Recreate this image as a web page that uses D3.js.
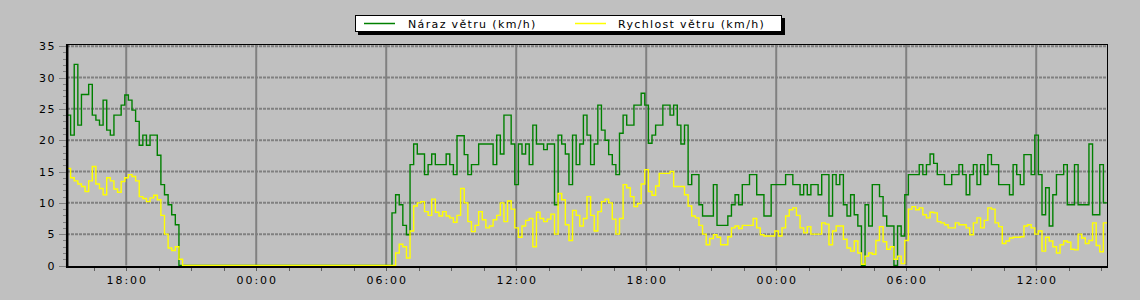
<!DOCTYPE html>
<html>
<head>
<meta charset="utf-8">
<script src="https://cdn.jsdelivr.net/npm/d3@7"></script>
<style>
  html, body { margin: 0; padding: 0; background: #c0c0c0; }
  svg { display: block; }
  text { font-family: "DejaVu Sans", sans-serif; }
</style>
</head>
<body>
<svg id="chart" width="1140" height="300"></svg>
<script>
// ---- data (10-minute samples starting at startTime) ----
const startTime = new Date(2024, 4, 10, 15, 16);
const stepMinutes = 10;
const spanHours = 48;

const seriesNames = ["Náraz větru (km/h)", "Rychlost větru (km/h)"];
const seriesColors = ["#008000", "#ffff00"];

const gust = [
  24.0, 20.8, 32.1, 22.4, 27.3, 27.3, 28.9, 24.0, 23.2, 22.4, 26.4, 21.6,
  20.8, 24.0, 24.0, 25.6, 27.2, 26.4, 24.8, 23.0, 19.2, 20.8, 19.2, 20.8,
  20.8, 17.6, 12.9, 11.3, 9.7, 8.1, 6.5, 0, 0, 0, 0, 0,
  0, 0, 0, 0, 0, 0, 0, 0, 0, 0, 0, 0,
  0, 0, 0, 0, 0, 0, 0, 0, 0, 0, 0, 0,
  0, 0, 0, 0, 0, 0, 0, 0, 0, 0, 0, 0,
  0, 0, 0, 0, 0, 0, 0, 0, 0, 0, 0, 0,
  0, 0, 0, 0, 0, 0, 8.4, 11.3, 9.7, 6.4, 4.9, 16.1,
  19.4, 17.8, 17.8, 14.5, 16.1, 17.8, 16.1, 16.1, 16.1, 17.8, 16.1, 14.5,
  20.7, 20.7, 17.7, 14.5, 16.1, 16.1, 19.4, 19.4, 19.4, 19.4, 16.1, 20.8,
  17.8, 24.0, 24.0, 19.4, 12.9, 19.4, 17.8, 19.4, 16.1, 22.4, 19.4, 19.4,
  18.5, 19.4, 19.4, 9.7, 20.8, 19.4, 17.8, 12.9, 20.8, 16.1, 19.4, 24.0,
  20.8, 16.1, 19.4, 25.6, 21.6, 20.0, 17.7, 16.1, 14.5, 21.1, 24.0, 22.4,
  22.4, 25.6, 25.6, 27.5, 25.6, 19.5, 20.8, 22.4, 22.4, 25.6, 25.6, 24.0,
  25.6, 22.4, 19.4, 22.4, 12.9, 14.5, 14.5, 9.7, 7.9, 7.9, 7.9, 12.9,
  6.4, 6.4, 6.4, 7.9, 9.7, 11.3, 9.7, 12.9, 12.9, 14.5, 14.5, 11.3,
  11.3, 7.9, 7.9, 12.9, 12.9, 12.9, 12.9, 14.5, 14.5, 12.9, 12.9, 11.3,
  12.9, 11.3, 12.9, 12.9, 11.3, 14.5, 14.5, 7.9, 14.5, 12.9, 14.5, 9.7,
  7.9, 11.3, 8.1, 6.3, 0, 9.7, 6.3, 12.9, 12.9, 11.0, 7.9, 6.3,
  6.3, 0, 6.3, 4.7, 11.3, 14.5, 14.5, 14.5, 16.1, 14.5, 16.1, 17.8,
  16.3, 14.5, 14.5, 12.9, 12.9, 14.5, 14.5, 16.1, 14.5, 11.3, 14.5, 16.1,
  12.9, 16.1, 14.5, 17.7, 16.1, 16.1, 12.9, 12.9, 12.9, 11.3, 16.1, 14.5,
  12.9, 17.7, 17.7, 14.5, 20.8, 14.5, 8.1, 12.4, 6.3, 11.3, 14.5, 14.5,
  16.1, 9.7, 9.7, 16.1, 9.7, 9.7, 9.7, 19.4, 8.1, 8.1, 16.1, 10.0
];

const speed = [
  15.5, 14.0, 13.5, 13.0, 12.6, 11.8, 13.5, 15.8, 13.0, 12.3, 11.3, 14.0,
  13.5, 12.2, 11.7, 13.4, 14.0, 14.5, 14.2, 13.5, 11.0, 10.7, 10.2, 10.8,
  11.2, 10.5, 8.0, 5.0, 2.8, 2.4, 3.0, 1.0, 0, 0, 0, 0,
  0, 0, 0, 0, 0, 0, 0, 0, 0, 0, 0, 0,
  0, 0, 0, 0, 0, 0, 0, 0, 0, 0, 0, 0,
  0, 0, 0, 0, 0, 0, 0, 0, 0, 0, 0, 0,
  0, 0, 0, 0, 0, 0, 0, 0, 0, 0, 0, 0,
  0, 0, 0, 0, 0, 0, 0, 2.0, 3.4, 3.0, 1.2, 5.5,
  9.5, 10.0, 10.2, 8.6, 8.0, 10.6, 8.5, 7.9, 8.6, 7.9, 7.6, 6.9,
  8.0, 12.3, 10.0, 7.0, 5.4, 6.4, 8.6, 7.3, 6.0, 6.3, 7.3, 8.0,
  10.0, 7.0, 10.3, 9.0, 6.0, 4.5, 6.3, 7.2, 7.5, 3.0, 8.5, 7.5,
  7.0, 7.4, 8.2, 5.0, 11.5, 10.5, 6.5, 4.0, 8.8, 8.0, 6.3, 7.5,
  11.0, 8.0, 5.5, 8.6, 10.2, 10.6, 10.0, 7.4, 5.0, 7.5, 12.9, 12.4,
  11.0, 9.4, 9.9, 13.0, 15.3, 11.8, 11.2, 12.7, 14.7, 14.7, 14.7, 15.0,
  12.6, 12.6, 12.6, 11.3, 9.5, 7.9, 7.6, 6.4, 5.0, 3.3, 4.3, 4.9,
  4.5, 3.3, 3.3, 4.6, 6.0, 6.3, 5.9, 6.4, 6.4, 6.4, 7.5, 6.0,
  4.9, 4.7, 4.7, 4.7, 5.5, 4.7, 6.0, 7.9, 8.9, 9.2, 8.0, 6.0,
  5.2, 6.2, 5.0, 5.0, 5.0, 6.8, 6.6, 3.3, 5.5, 6.3, 6.3, 4.2,
  2.8, 2.3, 3.9, 2.0, 0.2, 1.5, 2.0, 1.8, 4.0, 6.2, 3.8, 2.6,
  3.0, 1.0, 1.5, 0.3, 4.0, 9.0, 9.4, 8.9, 9.2, 8.1, 7.6, 8.5,
  8.4, 7.0, 6.8, 6.5, 6.0, 6.0, 6.8, 6.5, 6.5, 6.0, 4.9, 6.8,
  7.6, 6.0, 7.2, 9.2, 9.0, 6.8, 6.2, 3.5, 3.9, 4.4, 4.5, 4.5,
  4.6, 6.3, 6.5, 6.0, 5.0, 5.5, 2.3, 4.5, 3.9, 3.0, 2.0, 3.3,
  3.9, 3.7, 2.6, 2.5, 5.0, 4.4, 3.5, 4.0, 6.8, 3.2, 2.2, 6.8
];

const yTicks = [0, 5, 10, 15, 20, 25, 30, 35];
const yMax = 35;

// ---- layout ----
const svg = d3.select("#chart");
const L = 67, R = 1107, T = 46.2, B = 265.5;
const endTime = d3.timeHour.offset(startTime, spanHours);

const x = d3.scaleTime().domain([startTime, endTime]).range([L, R]);
const y = d3.scaleLinear().domain([0, yMax]).range([B, T]);

svg.append("rect").attr("width", 1140).attr("height", 300).attr("fill", "#c0c0c0");

// horizontal grid
svg.append("g").selectAll("line").data(yTicks.filter(d => d > 0)).join("line")
  .attr("x1", L).attr("x2", R)
  .attr("y1", d => y(d)).attr("y2", d => y(d))
  .attr("stroke", "#808080").attr("stroke-width", 2).attr("stroke-dasharray", "3,1");

// vertical grid every 6 hours
const majorTimes = d3.timeHour.every(6).range(startTime, endTime);
svg.append("g").selectAll("line").data(majorTimes).join("line")
  .attr("x1", d => x(d)).attr("x2", d => x(d))
  .attr("y1", 44).attr("y2", B)
  .attr("stroke", "#808080").attr("stroke-width", 2);

// series
function toPts(arr) {
  const p = arr.map((v, i) => ({ t: d3.timeMinute.offset(startTime, i * stepMinutes), v }));
  p.push({ t: endTime, v: arr[arr.length - 1] });
  return p;
}
const line = d3.line().x(d => x(d.t)).y(d => y(d.v)).curve(d3.curveStepAfter);

svg.append("clipPath").attr("id", "clip").append("rect")
  .attr("x", L).attr("y", 40).attr("width", R - L).attr("height", B - 40 + 1);

const plot = svg.append("g").attr("clip-path", "url(#clip)");
plot.append("path").datum(toPts(gust)).attr("d", line)
  .attr("fill", "none").attr("stroke", seriesColors[0]).attr("stroke-width", 1.4);
plot.append("path").datum(toPts(speed)).attr("d", line)
  .attr("fill", "none").attr("stroke", seriesColors[1]).attr("stroke-width", 1.4);

// frame
svg.append("line").attr("x1", L).attr("x2", R).attr("y1", 44.5).attr("y2", 44.5)
  .attr("stroke", "#000").attr("stroke-width", 1);
svg.append("line").attr("x1", R + 0.5).attr("x2", R + 0.5).attr("y1", 44).attr("y2", 268)
  .attr("stroke", "#000").attr("stroke-width", 1);
svg.append("line").attr("x1", L - 1).attr("x2", R + 1).attr("y1", 267).attr("y2", 267)
  .attr("stroke", "#000").attr("stroke-width", 2);
svg.append("line").attr("x1", L + 0.2).attr("x2", L + 0.2).attr("y1", 44).attr("y2", 268)
  .attr("stroke", "#000").attr("stroke-width", 2.5);

// y axis ticks
const minorY = d3.range(0, yMax + 1, 1);
svg.append("g").selectAll("line").data(minorY).join("line")
  .attr("x1", d => (d % 5 === 0 ? 59 : 63)).attr("x2", 66)
  .attr("y1", d => Math.round(y(d)) + 0.5).attr("y2", d => Math.round(y(d)) + 0.5)
  .attr("stroke", "#808080").attr("stroke-width", 1);
svg.append("g").selectAll("text").data(yTicks).join("text")
  .attr("x", 56).attr("y", d => y(d) + 4)
  .attr("text-anchor", "end")
  .attr("font-size", 11).attr("letter-spacing", "1.5px")
  .attr("fill", "#000").text(d => d);

// x axis ticks every 90 min
const minorX = d3.timeMinute.every(30).range(startTime, endTime)
  .filter(d => (d.getHours() * 60 + d.getMinutes()) % 90 === 0);
svg.append("g").selectAll("line").data(minorX).join("line")
  .attr("x1", d => Math.round(x(d)) + 0.5).attr("x2", d => Math.round(x(d)) + 0.5)
  .attr("y1", 268).attr("y2", 271)
  .attr("stroke", "#606060").attr("stroke-width", 1);
const fmt = d3.timeFormat("%H:%M");
svg.append("g").selectAll("text").data(majorTimes).join("text")
  .attr("x", d => x(d) + 1).attr("y", 283.5)
  .attr("text-anchor", "middle")
  .attr("font-size", 11).attr("letter-spacing", "1.9px")
  .attr("fill", "#000").text(d => fmt(d));

// legend
const lg = svg.append("g");
lg.append("rect").attr("x", 358).attr("y", 18).attr("width", 427).attr("height", 17).attr("fill", "#000");
lg.append("rect").attr("x", 355.5).attr("y", 15.5).attr("width", 426).attr("height", 16)
  .attr("fill", "#fff").attr("stroke", "#000").attr("stroke-width", 1);
const legendItems = [
  { name: seriesNames[0], color: seriesColors[0], lx: 364, tx: 408 },
  { name: seriesNames[1], color: seriesColors[1], lx: 575, tx: 618 }
];
legendItems.forEach(it => {
  lg.append("line").attr("x1", it.lx).attr("x2", it.lx + 31).attr("y1", 23.5).attr("y2", 23.5)
    .attr("stroke", it.color).attr("stroke-width", 1.5);
  lg.append("text").attr("x", it.tx).attr("y", 27.5)
    .attr("font-size", 11).attr("letter-spacing", "1.35px")
    .attr("fill", "#000").text(it.name);
});
</script>
</body>
</html>
